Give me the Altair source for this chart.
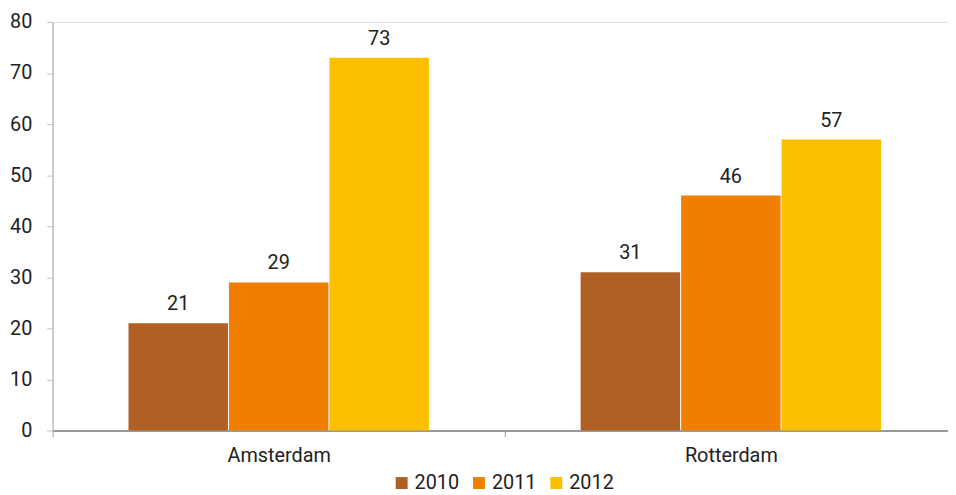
import altair as alt
import pandas as pd

cities = ["Amsterdam", "Rotterdam"]
years = ["2010", "2011", "2012"]
values_2010 = [21, 31]
values_2011 = [29, 46]
values_2012 = [73, 57]
colors = ["#B06025", "#F07F00", "#FBBF00"]
y_ticks = [0, 10, 20, 30, 40, 50, 60, 70, 80]

rows = []
for yr, vals in zip(years, [values_2010, values_2011, values_2012]):
    for c, v in zip(cities, vals):
        rows.append({"city": c, "year": yr, "value": v})
df = pd.DataFrame(rows)

FONT = "Roboto, Liberation Sans, sans-serif"
FS = 20

x = alt.X("city:N", sort=cities, title=None,
          scale=alt.Scale(paddingInner=0, paddingOuter=0),
          axis=alt.Axis(labelAngle=0, labelFontSize=FS, labelColor="#222",
                        labelPadding=9, tickBand="extent", tickSize=6,
                        tickColor="#999", domainColor="#999", domainWidth=2,
                        labelFont=FONT))
xo = alt.XOffset("year:N", sort=years,
                 scale=alt.Scale(paddingOuter=0.755, paddingInner=0.01))
y = alt.Y("value:Q", title=None,
          scale=alt.Scale(domain=[0, 80], nice=False),
          axis=alt.Axis(values=y_ticks, grid=False, labelFontSize=FS,
                        labelColor="#222", labelPadding=15, tickSize=6,
                        tickColor="#c0c0c8", domainColor="#c0c0c8",
                        domainWidth=1.5, labelFont=FONT))
color = alt.Color("year:N", sort=years,
                  scale=alt.Scale(domain=years, range=colors),
                  legend=alt.Legend(title=None, orient="none", direction="horizontal",
                                    legendX=342, legendY=455, symbolType="square",
                                    symbolSize=144, symbolStrokeWidth=0,
                                    labelFontSize=FS, labelColor="#222",
                                    labelFont=FONT, labelOffset=3,
                                    columnPadding=10))

bars = alt.Chart(df).mark_bar(opacity=1).encode(x=x, xOffset=xo, y=y, color=color)
labels = alt.Chart(df).mark_text(fontSize=FS, dy=-13, baseline="alphabetic",
                                 color="#222", font=FONT).encode(
    x=x, xOffset=xo, y=y, text=alt.Text("value:Q"))

chart = (bars + labels).properties(
    width=912, height=412,
    autosize=alt.AutoSizeParams(type="none"),
    padding={"left": 45, "top": 12, "right": -9, "bottom": 63},
).configure_view(stroke=None).configure(font=FONT)

chart.save("out.html", embed_options={"renderer": "svg", "actions": False})
